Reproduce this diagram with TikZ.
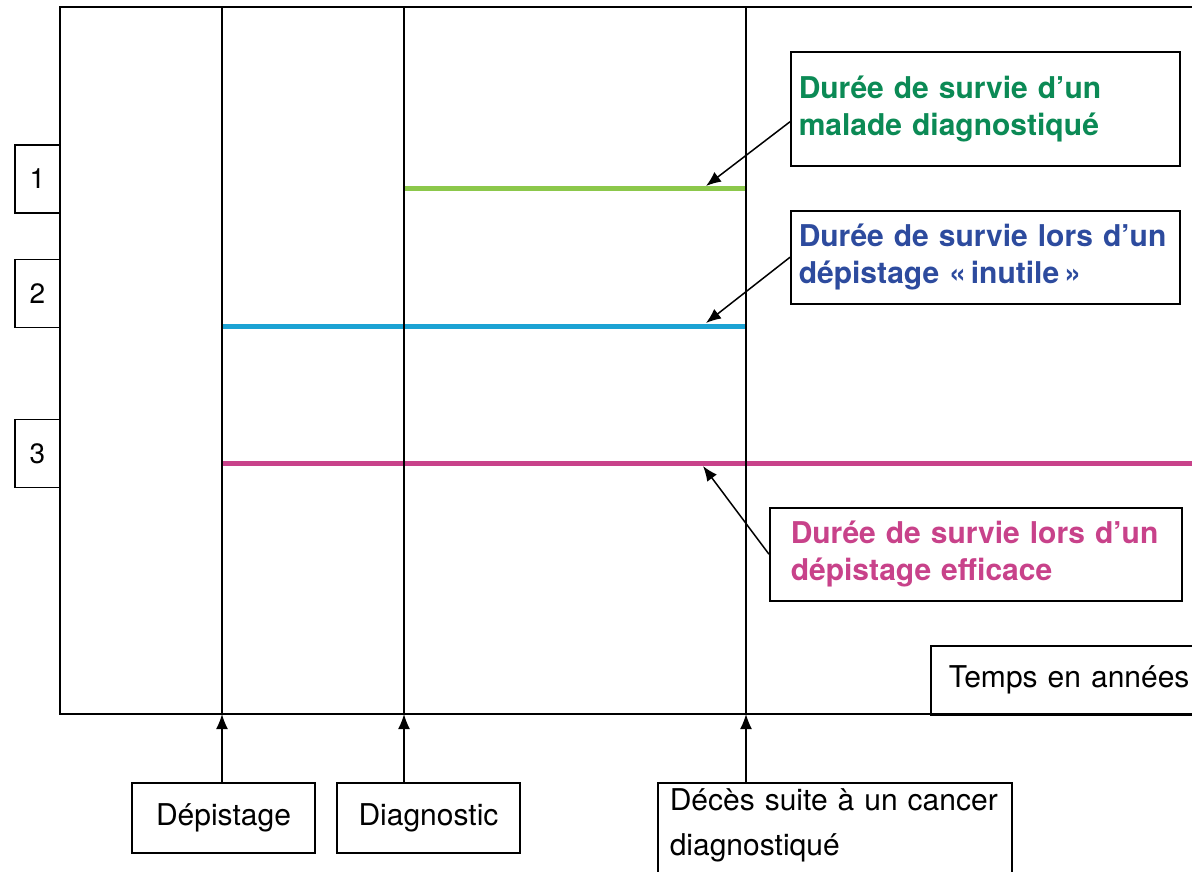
\documentclass[tikz,border=0pt]{standalone}
\usepackage{fontspec}
\setmainfont{TeX Gyre Heros}
\usetikzlibrary{arrows.meta}

\definecolor{vertTexte}{HTML}{0B8A55}
\definecolor{vertTrait}{HTML}{8CC84B}
\definecolor{bleuTexte}{HTML}{2D4B9E}
\definecolor{bleuTrait}{HTML}{1CA3D4}
\definecolor{roseTrait}{HTML}{C8428A}

\tikzset{
  trait/.style={line width=1.6pt},
  cadre/.style={draw, line width=1.5pt, inner sep=0pt, font=\fontsize{30}{45}\selectfont},
  legende/.style={draw, line width=1.5pt, align=left, anchor=north west, inner xsep=8pt, inner ysep=0pt,
    text width=373pt, font=\bfseries\fontsize{30}{37}\selectfont},
  fleche/.style={-{Latex[length=15pt,width=12pt]}, line width=1.5pt},
  survie/.style={line width=5pt},
}

\begin{document}
\begin{tikzpicture}[x=1pt,y=-1pt]
      \useasboundingbox (0,0) rectangle (1192,871);
      % \draw[help lines, step=100pt] (0,0) grid (1192,871);

      % axes du temps
      \coordinate (tDep) at (222,714);
      \coordinate (tDiag) at (404,714);
      \coordinate (tDeces) at (746,714);

      % courbes de survie
      \draw[survie, vertTrait] (404,188) -- (746,188);
      \draw[survie, bleuTrait] (222,326) -- (746,326);
      \draw[survie, roseTrait] (222,463) -- (1192,463);

      \draw[trait] (1192,7) -- (60,7) -- (60,714) -- (1192,714);
      \draw[trait] (222,7) -- (tDep);
      \draw[trait] (404,7) -- (tDiag);
      \draw[trait] (746,7) -- (tDeces);

      % numeros
      \draw (37.5,179) node[cadre, minimum width=45pt, minimum height=68pt, font=\fontsize{28}{30}\selectfont] (n1) {1};
      \draw (37.5,293.5) node[cadre, minimum width=45pt, minimum height=68pt, font=\fontsize{28}{30}\selectfont] (n2) {2};
      \draw (37.5,453.5) node[cadre, minimum width=45pt, minimum height=68pt, font=\fontsize{28}{30}\selectfont] (n3) {3};

      % legendes
      \draw (790,51) node[legende, minimum height=114pt, text=vertTexte] (malade) {Durée de survie d’un\\malade diagnostiqué};
      \draw (790,210) node[legende, minimum height=93pt, text=bleuTexte] (inutile) {Durée de survie lors d’un\\dépistage «\,inutile\,»};
      \draw (769,507) node[legende, minimum height=93pt, inner xsep=21pt, text width=370pt, text=roseTrait] (efficace) {Durée de survie lors d’un\\dépistage efficace};

      \coordinate (pVert) at (706,186);
      \coordinate (pBleu) at (706,323);
      \coordinate (pRose) at (703,466);
      \draw[fleche] ([yshift=-13pt]malade.west) -- (pVert);
      \draw[fleche] (inutile.west) -- (pBleu);
      \draw[fleche] (efficace.west) -- (pRose);

      \draw (930,645) node[cadre, anchor=north west, align=left, inner xsep=18pt, text width=290pt, minimum height=69pt] (temps) {Temps en années};

      % evenements
      \draw (223.5,818) node[cadre, minimum width=183pt, minimum height=70pt] (depistage) {Dépistage};
      \draw (428.5,818) node[cadre, minimum width=183pt, minimum height=70pt] (diagnostic) {Diagnostic};
      \draw (657,782) node[cadre, anchor=north west, align=left, inner xsep=12pt, inner ysep=6pt, text width=330pt] (deces) {Décès suite à un cancer\\diagnostiqué\\\mbox{}};

      \draw[fleche] (depistage.north -| tDep) -- (tDep);
      \draw[fleche] (diagnostic.north -| tDiag) -- (tDiag);
      \draw[fleche] (deces.north -| tDeces) -- (tDeces);
    \end{tikzpicture}
\end{document}
